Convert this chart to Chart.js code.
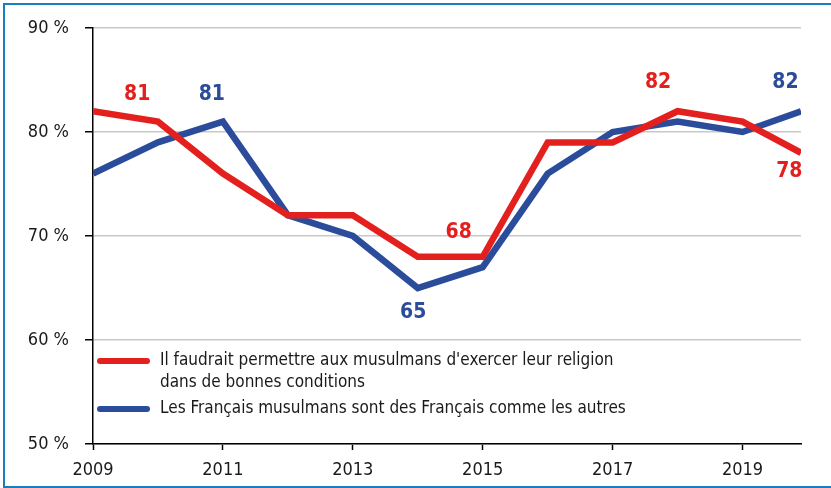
<!DOCTYPE html>
<html>
<head>
<meta charset="utf-8">
<script src="https://cdn.jsdelivr.net/npm/chart.js@4"></script>
<style>
  html, body { margin: 0; padding: 0; background: #fff; }
  #wrap { position: relative; width: 831px; height: 488px; overflow: hidden; }
  #frame { position: absolute; left: 3px; top: 3px; width: 840px; height: 481px;
           border: 2px solid #1c7cc2; box-sizing: content-box; pointer-events: none; }
  canvas { position: absolute; left: 0; top: 0; }
</style>
</head>
<body>
<div id="wrap">
  <canvas id="chart" width="831" height="488"></canvas>
  <div id="frame"></div>
</div>
<script>
const FONT = '"Liberation Sans Narrow", "DejaVu Sans Condensed", "Liberation Sans", Arial, sans-serif';

// years (last point sits just before 2020)
const annees = [2009, 2010, 2011, 2012, 2013, 2014, 2015, 2016, 2017, 2018, 2019, 2019.9];
const religion = [82, 81, 76, 72, 72, 68, 68, 79, 79, 82, 81, 78];
const commeAutres = [76, 79, 81, 72, 70, 65, 67, 76, 80, 81, 80, 82];
const xTicks = [2009, 2011, 2013, 2015, 2017, 2019];
const yTicks = [50, 60, 70, 80, 90];

const labelRouge = ["Il faudrait permettre aux musulmans d'exercer leur religion", "dans de bonnes conditions"];
const labelBleu = ["Les Français musulmans sont des Français comme les autres"];

// value labels: [x, y, text, serie]
const etiquettes = [
  [2009.68, 83.6, "81", 0],
  [2010.83, 83.6, "81", 1],
  [2014.63, 70.3, "68", 0],
  [2013.93, 62.6, "65", 1],
  [2017.7, 84.8, "82", 0],
  [2019.66, 84.8, "82", 1],
  [2019.72, 76.2, "78", 0]
];

const ROUGE = '#e3201e';
const BLEU = '#2a4c9b';
const couleurs = [ROUGE, BLEU];

const pointsRouge = annees.map((a, i) => ({ x: a, y: religion[i] }));
const pointsBleu = annees.map((a, i) => ({ x: a, y: commeAutres[i] }));

const extras = {
  id: 'extras',
  afterDatasetsDraw(chart) {
    const c = chart.ctx;
    const xs = chart.scales.x, ys = chart.scales.y;
    c.save();
    // value labels
    c.font = 'bold 21px ' + FONT;
    c.textAlign = 'center';
    c.textBaseline = 'middle';
    etiquettes.forEach(e => {
      c.fillStyle = couleurs[e[3]];
      c.fillText(e[2], xs.getPixelForValue(e[0]), ys.getPixelForValue(e[1]));
    });
    // legend
    const lx = chart.chartArea.left + 7;
    const rows = [
      { col: ROUGE, lines: labelRouge, y: 361 },
      { col: BLEU, lines: labelBleu, y: 409 }
    ];
    c.lineCap = 'round';
    c.lineWidth = 6;
    c.font = '17px ' + FONT;
    c.textAlign = 'left';
    rows.forEach(r => {
      c.strokeStyle = r.col;
      c.beginPath();
      c.moveTo(lx, r.y);
      c.lineTo(lx + 47, r.y);
      c.stroke();
      c.fillStyle = '#1a1a1a';
      r.lines.forEach((t, k) => c.fillText(t, lx + 60, r.y + k * 22));
    });
    c.restore();
  }
};

new Chart(document.getElementById('chart'), {
  type: 'line',
  data: {
    datasets: [
      {
        label: labelRouge.join(' '),
        data: pointsRouge,
        borderColor: ROUGE,
        backgroundColor: ROUGE,
        borderWidth: 6.5,
        pointRadius: 0,
        tension: 0,
        borderJoinStyle: 'miter'
      },
      {
        label: labelBleu[0],
        data: pointsBleu,
        borderColor: BLEU,
        backgroundColor: BLEU,
        borderWidth: 6.5,
        pointRadius: 0,
        tension: 0,
        borderJoinStyle: 'miter'
      }
    ]
  },
  options: {
    responsive: false,
    animation: false,
    layout: { padding: { left: 0, top: 28, right: 30, bottom: 0 } },
    plugins: {
      legend: { display: false },
      tooltip: { enabled: false }
    },
    scales: {
      x: {
        type: 'linear',
        min: annees[0],
        max: annees[annees.length - 1],
        afterBuildTicks(scale) { scale.ticks = xTicks.map(v => ({ value: v })); },
        afterFit(scale) { scale.height = 44; },
        grid: { drawOnChartArea: false, drawTicks: true, tickLength: 6, tickColor: '#000', tickWidth: 1.5 },
        border: { color: '#000', width: 1.5 },
        ticks: {
          color: '#1a1a1a',
          font: { family: FONT, size: 18 },
          padding: 10,
          maxRotation: 0,
          callback: v => String(v)
        }
      },
      y: {
        min: 50,
        max: 90,
        afterBuildTicks(scale) { scale.ticks = yTicks.map(v => ({ value: v })); },
        afterFit(scale) { scale.width = 93; },
        grid: { color: '#c8c8c8', lineWidth: 1.5, tickLength: 8, tickColor: '#000', tickWidth: 1.5 },
        border: { color: '#000', width: 1.5 },
        ticks: {
          color: '#1a1a1a',
          font: { family: FONT, size: 18 },
          padding: 16,
          callback: v => v + ' %'
        }
      }
    }
  },
  plugins: [extras]
});
</script>
</body>
</html>
